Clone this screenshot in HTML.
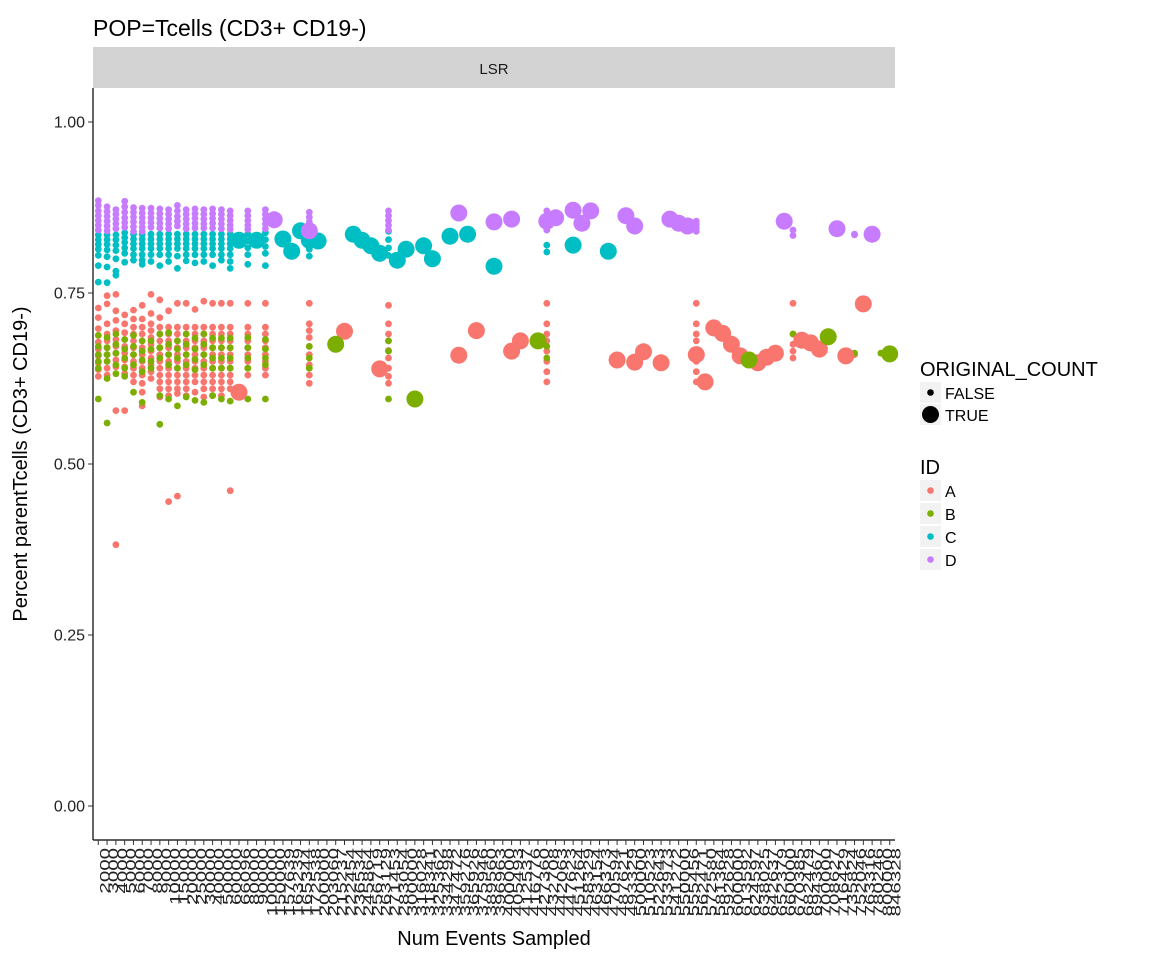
<!DOCTYPE html>
<html><head><meta charset="utf-8"><style>
body{margin:0;background:#fff;}
svg{display:block;font-family:"Liberation Sans",Arial,sans-serif;}
</style></head><body>
<svg id="chart" width="1152" height="960" xmlns="http://www.w3.org/2000/svg">
<text x="93" y="36" font-size="23" fill="#000">POP=Tcells (CD3+ CD19-)</text>
<rect x="93" y="47" width="802" height="41" fill="#D3D3D3"/>
<text x="494" y="74" font-size="15" text-anchor="middle" fill="#1a1a1a">LSR</text>
<g id="marks"></g>
<line x1="93" y1="88" x2="93" y2="840" stroke="#000" stroke-width="1.2"/>
<line x1="93" y1="840" x2="895" y2="840" stroke="#000" stroke-width="1.2"/>
<g id="yaxis"></g><g id="xaxis"></g>
<text x="494" y="945" font-size="20" text-anchor="middle">Num Events Sampled</text>
<text transform="translate(27,464) rotate(-90)" font-size="20" text-anchor="middle">Percent parentTcells (CD3+ CD19-)</text>
<g>
<text x="920" y="376" font-size="20">ORIGINAL_COUNT</text>
<rect x="920" y="382" width="21" height="21" fill="#F2F2F2"/><circle cx="930.5" cy="392.5" r="3.3" fill="#000"/>
<text x="945" y="399" font-size="16">FALSE</text>
<rect x="920" y="404" width="21" height="21" fill="#F2F2F2"/><circle cx="930.5" cy="414.5" r="8.5" fill="#000"/>
<text x="945" y="421" font-size="16">TRUE</text>
<text x="920" y="474" font-size="20">ID</text>
<rect x="920" y="480" width="21" height="21" fill="#F2F2F2"/><circle cx="930.5" cy="490.5" r="3.3" fill="#F8766D"/>
<text x="945" y="497" font-size="16">A</text>
<rect x="920" y="503" width="21" height="21" fill="#F2F2F2"/><circle cx="930.5" cy="513.5" r="3.3" fill="#7CAE00"/>
<text x="945" y="520" font-size="16">B</text>
<rect x="920" y="526" width="21" height="21" fill="#F2F2F2"/><circle cx="930.5" cy="536.5" r="3.3" fill="#00BFC4"/>
<text x="945" y="543" font-size="16">C</text>
<rect x="920" y="549" width="21" height="21" fill="#F2F2F2"/><circle cx="930.5" cy="559.5" r="3.3" fill="#C77CFF"/>
<text x="945" y="566" font-size="16">D</text>
</g>
</svg>
<script>
const categories = ["2000","3000","4000","5000","6000","7000","8000","9000","10000","15000","20000","25000","30000","40000","50000","60000",
"66096","80000","90000","100000","150000","157639","163239","165344","172538","200000","203060","215237","222454","236534","245864",
"256719","263129","271453","283054","300000","316028","318341","325362","334298","347472","359276","365926","375946","389560","396963",
"400000","405493","412537","416776","427360","432708","442063","447623","451264","458329","463154","466373","470594","487621","493329",
"500000","510523","522643","533973","541272","550000","555456","562471","572580","581364","592628","600000","613592","624597","638025",
"642637","652379","660000","670385","682479","694367","700000","708627","716429","735824","752046","763316","780246","800000","846328"];
const yTicks = [0, 0.25, 0.5, 0.75, 1.0];
const yTickLabels = ["0.00","0.25","0.50","0.75","1.00"];
const denseCols = [0,1,2,3,4,5,6,7,8,9,10,11,12,13,14,15,17,19,24,33,51,68,79,86];
const colD = [[.885,.878,.870,.863,.856,.849,.842],[.876,.869,.862,.855,.848,.841],[.872,.865,.858,.851,.844],[.884,.876,.868,.860,.853,.846],[.875,.868,.861,.854,.847,.840],[.874,.867,.860,.853,.846,.840],[.874,.867,.860,.853,.846],[.873,.866,.859,.852,.845],[.872,.865,.858,.851,.844],[.878,.870,.862,.855,.848],[.872,.865,.858,.851,.844],[.873,.866,.859,.852,.845],[.872,.865,.858,.851,.845],[.873,.866,.859,.852,.845],[.872,.865,.858,.851,.844],[.870,.863,.856,.849,.843],
[.870,.863,.856,.849,.843],[.872,.865,.858,.851,.844],[.868,.861,.854,.847,.840],[.870,.863,.856,.849,.842],[.870,.863,.856,.849,.842],[.855,.850,.845,.840],[.842,.834],[.836]];
const colC = [[.835,.828,.821,.814,.805,.790,.766],[.835,.828,.821,.813,.803,.788,.765],[.835,.828,.820,.812,.800,.782,.776],[.838,.831,.824,.816,.808,.795],[.836,.829,.822,.815,.806,.798],[.836,.829,.822,.815,.806,.798,.792],[.836,.829,.822,.815,.806,.796],[.836,.829,.822,.815,.806,.790],[.836,.829,.822,.815,.806,.796],[.836,.829,.822,.815,.804,.786],[.836,.829,.822,.815,.806,.797],[.836,.829,.822,.815,.806,.794],[.836,.829,.822,.815,.806,.796],[.836,.829,.822,.815,.806,.790],[.836,.829,.822,.815,.806,.798],[.836,.829,.822,.815,.806,.796,.786],
[.836,.826,.816,.806,.792],[.838,.828,.818,.808,.790],[.834,.824,.814,.804],[.840,.828,.816,.805],[.820,.810],[],[],[]];
const colA = [[.728,.714,.698,.688,.678,.668,.658,.648,.638,.628],[.746,.734,.705,.690,.680,.670,.660,.650,.640,.630],[.748,.724,.710,.695,.682,.672,.662,.652,.642,.578,.382],[.718,.705,.692,.682,.672,.662,.652,.642,.632,.578],[.725,.712,.700,.690,.680,.670,.660,.650,.640,.630,.620],[.732,.712,.700,.690,.680,.670,.660,.650,.640,.630,.618,.605,.585],[.748,.720,.705,.695,.685,.675,.665,.655,.645,.635,.625],[.740,.714,.700,.690,.680,.670,.660,.650,.640,.630,.620,.610,.598],[.724,.700,.690,.680,.670,.660,.650,.640,.630,.620,.610,.600,.445],[.735,.700,.690,.680,.670,.660,.650,.640,.630,.620,.610,.603,.453],[.735,.700,.690,.680,.670,.660,.650,.640,.630,.620,.610,.600],[.726,.700,.690,.680,.670,.660,.650,.640,.630,.620,.605],[.738,.700,.690,.680,.670,.660,.650,.640,.630,.620,.610,.598],[.735,.700,.690,.680,.670,.660,.650,.640,.630,.620,.610,.600],[.735,.700,.690,.680,.670,.660,.650,.640,.630,.620,.610,.600],[.735,.700,.690,.680,.670,.660,.650,.640,.630,.620,.610,.461],
[.735,.700,.690,.680,.670,.660,.650,.640,.630],[.735,.700,.690,.680,.670,.660,.650,.640,.630],[.735,.705,.695,.685,.672,.660,.645,.630,.618],[.732,.705,.690,.680,.666,.655,.640,.628,.618],[.735,.705,.690,.680,.665,.650,.635,.620],[.735,.705,.690,.680,.665,.650,.635,.620],[.735,.690,.675,.665,.655],[.660]];
const colB = [[.688,.672,.660,.650,.640,.595],[.685,.670,.660,.650,.625,.560],[.690,.675,.662,.645,.632],[.682,.668,.655,.640,.628],[.688,.672,.660,.645,.605],[.680,.665,.652,.635,.590],[.680,.668,.650,.640],[.690,.670,.655,.600,.558],[.692,.675,.660,.645,.595],[.680,.668,.655,.640,.585],[.690,.675,.660,.645,.598],[.684,.668,.653,.638,.593],[.690,.675,.660,.645,.590],[.684,.670,.655,.640,.600],[.684,.670,.655,.640,.595],[.684,.670,.655,.640,.592],
[.685,.670,.655,.640,.595],[.682,.668,.655,.645,.595],[.672,.655,.640],[.680,.665,.595],[.672,.655],[],[.690],[.662]];
const trueD = [[20,.857],[24,.841],[41,.867],[45,.854],[47,.858],[51,.855],[52,.860],[54,.871],[55,.852],[56,.870],[60,.863],[61,.848],[65,.858],[66,.852],[67,.848],[78,.855],[84,.844],[88,.836]];
const trueC = [[16,.827],[18,.827],[21,.829],[22,.811],[23,.841],[24,.827],[25,.826],[29,.836],[30,.827],[31,.819],[32,.808],[34,.798],[35,.814],[37,.819],[38,.800],[40,.833],[42,.836],[45,.789],[54,.820],[58,.811]];
const trueA = [[16,.605],[28,.694],[32,.639],[41,.659],[43,.695],[47,.665],[48,.680],[59,.652],[61,.649],[62,.664],[64,.648],[68,.660],[69,.620],[70,.699],[71,.691],[72,.675],[73,.658],[75,.648],[76,.656],[77,.662],[80,.681],[81,.677],[82,.668],[85,.658],[87,.734]];
const trueB = [[27,.675],[36,.595],[50,.680],[74,.652],[83,.686],[90,.661]];
const smallExtra = [[87,.734,"A"],[86,.835,"D"],[89,.662,"B"]];

const NS="http://www.w3.org/2000/svg";
const step = 802/(categories.length - 1 + 1.2);
function xScale(i){return 93 + (i+0.6)*step;}
function yScale(v){return 806 - v*684;}
const colors={A:"#F8766D",B:"#7CAE00",C:"#00BFC4",D:"#C77CFF"};
const marks=document.getElementById('marks');
function dot(i,v,id,r,name){
  const c=document.createElementNS(NS,'circle');
  c.setAttribute('cx',xScale(i).toFixed(1));
  c.setAttribute('cy',yScale(v).toFixed(1));
  c.setAttribute('r',r);
  c.setAttribute('fill',colors[id]);
  
  
  marks.appendChild(c);
}
[["A",colA],["B",colB],["C",colC],["D",colD]].forEach(([id,cols])=>{
  cols.forEach((vals,k)=>{vals.forEach(v=>dot(denseCols[k],v,id,3.4,'point-'+id.toLowerCase()));});
});
smallExtra.forEach(p=>dot(p[0],p[1],p[2],3.4,'point-'+p[2].toLowerCase()));
[["A",trueA],["B",trueB],["C",trueC],["D",trueD]].forEach(([id,arr])=>{
  arr.forEach(p=>dot(p[0],p[1],id,8.5,'point-original-'+id.toLowerCase()));
});
const ya=document.getElementById('yaxis');
yTicks.forEach((t,k)=>{
  const y=yScale(t);
  const l=document.createElementNS(NS,'line');
  l.setAttribute('x1',88);l.setAttribute('x2',93);l.setAttribute('y1',y);l.setAttribute('y2',y);
  l.setAttribute('stroke','#333');
  
  
  ya.appendChild(l);
  const tx=document.createElementNS(NS,'text');
  tx.setAttribute('x',85);tx.setAttribute('y',y+5.5);tx.setAttribute('text-anchor','end');
  tx.setAttribute('font-size','16');tx.setAttribute('fill','#222');
  tx.textContent=yTickLabels[k];
  
  
  ya.appendChild(tx);
});
const xa=document.getElementById('xaxis');
categories.forEach((c,i)=>{
  const x=xScale(i);
  const l=document.createElementNS(NS,'line');
  l.setAttribute('x1',x);l.setAttribute('x2',x);l.setAttribute('y1',840);l.setAttribute('y2',845);
  l.setAttribute('stroke','#333');
  
  
  xa.appendChild(l);
  const tx=document.createElementNS(NS,'text');
  tx.setAttribute('transform','translate('+(x+11)+',848) scale(0.68,1) rotate(-90)');
  tx.setAttribute('text-anchor','end');
  tx.setAttribute('font-size','20.5');tx.setAttribute('fill','#222');
  tx.textContent=c;
  
  
  xa.appendChild(tx);
});
</script>
</body></html>
